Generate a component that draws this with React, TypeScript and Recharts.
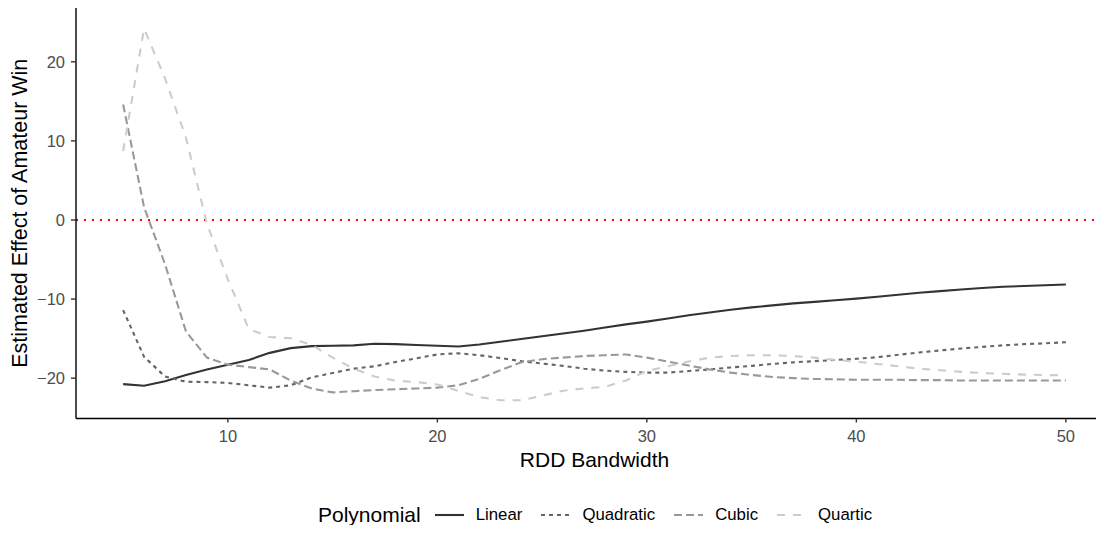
import React from 'react';
import { LineChart, Line, XAxis, YAxis, ReferenceLine } from 'recharts';

// RDD bandwidth (x) and estimated effect per polynomial order (y)
const bandwidth = [
  5, 6, 7, 8, 9, 10, 11, 12, 13, 14, 15, 16, 17, 18, 19, 20, 21, 22, 23, 24, 25, 26, 27,
  28, 29, 30, 31, 32, 33, 34, 35, 36, 37, 38, 39, 40, 41, 42, 43, 44, 45, 46, 47, 48, 49, 50,
];

const linear = [
  -20.75, -20.95, -20.4, -19.6, -18.9, -18.3, -17.7, -16.8, -16.2, -15.95, -15.9, -15.85,
  -15.65, -15.7, -15.8, -15.9, -16.0, -15.75, -15.4, -15.05, -14.7, -14.35, -14.0, -13.6,
  -13.2, -12.85, -12.45, -12.05, -11.7, -11.35, -11.05, -10.8, -10.55, -10.35, -10.15,
  -9.95, -9.7, -9.45, -9.2, -9.0, -8.8, -8.6, -8.45, -8.35, -8.25, -8.15,
];

const quadratic = [
  -11.4, -17.3, -19.8, -20.45, -20.5, -20.6, -20.9, -21.2, -20.9, -19.9, -19.35, -18.8,
  -18.5, -17.95, -17.5, -17.0, -16.85, -17.1, -17.45, -17.85, -18.15, -18.45, -18.8,
  -19.05, -19.2, -19.3, -19.3, -19.1, -18.9, -18.65, -18.45, -18.2, -18.0, -17.85, -17.7,
  -17.55, -17.35, -17.05, -16.75, -16.5, -16.25, -16.05, -15.85, -15.7, -15.6, -15.45,
];

const cubic = [
  14.6, 1.6, -5.6, -14.1, -17.4, -18.3, -18.6, -18.9, -20.3, -21.3, -21.8, -21.65, -21.5,
  -21.4, -21.3, -21.2, -20.9, -20.1, -19.0, -18.0, -17.6, -17.4, -17.2, -17.1, -17.0,
  -17.4, -17.9, -18.4, -18.9, -19.3, -19.6, -19.85, -20.0, -20.1, -20.15, -20.2, -20.2,
  -20.2, -20.25, -20.25, -20.3, -20.3, -20.3, -20.3, -20.3, -20.3,
];

const quartic = [
  8.7, 24.2, 17.9, 10.4, -0.5, -7.5, -13.8, -14.8, -14.95, -15.8, -17.4, -18.8, -19.8,
  -20.3, -20.5, -20.8, -21.6, -22.4, -22.8, -22.8, -22.2, -21.6, -21.3, -21.1, -20.3,
  -19.1, -18.5, -17.9, -17.4, -17.2, -17.1, -17.1, -17.2, -17.4, -17.7, -17.9, -18.2,
  -18.5, -18.8, -19.0, -19.2, -19.35, -19.45, -19.55, -19.6, -19.65,
];

const xTicks = [10, 20, 30, 40, 50];
const yTicks = [-20, -10, 0, 10, 20];

const seriesNames = ['Linear', 'Quadratic', 'Cubic', 'Quartic'];
const seriesValues = [linear, quadratic, cubic, quartic];
const seriesColors = ['#333333', '#666666', '#999999', '#CCCCCC'];
const seriesDashes = ['', '4 4', '8 4', '8 8'];

const data = bandwidth.map((b, i) => {
  const row: Record<string, number> = { bandwidth: b };
  seriesNames.forEach((name, s) => {
    row[name] = seriesValues[s][i];
  });
  return row;
});

const FONT = '"Liberation Sans", Arial, Helvetica, sans-serif';
const LINE_W = 2.1;

const fmtY = (v: number) => (v < 0 ? '\u2212' + Math.abs(v) : String(v));

const YTitle = (props: any) => {
  const vb = props.viewBox || {};
  const cx = 20;
  const cy = vb.y + vb.height / 2;
  return (
    <text
      x={cx}
      y={cy}
      transform={`rotate(-90 ${cx} ${cy})`}
      textAnchor="middle"
      dominantBaseline="central"
      fontFamily={FONT}
      fontSize={21.5}
      fill="#000000"
    >
      Estimated Effect of Amateur Win
    </text>
  );
};

const XTitle = (props: any) => {
  const vb = props.viewBox || {};
  return (
    <text
      x={vb.x + vb.width / 2}
      y={vb.y + 48.5}
      textAnchor="middle"
      fontFamily={FONT}
      fontSize={21}
      fill="#000000"
    >
      RDD Bandwidth
    </text>
  );
};

const LegendRow = () => (
  <div
    style={{
      position: 'absolute',
      left: 318,
      top: 504,
      height: 22,
      display: 'flex',
      alignItems: 'center',
      fontFamily: FONT,
      color: '#000',
      whiteSpace: 'nowrap',
      lineHeight: '22px',
    }}
  >
    <span style={{ fontSize: 21, marginRight: 14 }}>Polynomial</span>
    {seriesNames.map((name, i) => (
      <div
        key={name}
        style={{ display: 'flex', alignItems: 'center', marginRight: i < seriesNames.length - 1 ? 19 : 0 }}
      >
        <svg width={29} height={22} style={{ display: 'block' }}>
          <line
            x1={0}
            x2={29}
            y1={11}
            y2={11}
            stroke={seriesColors[i]}
            strokeWidth={LINE_W}
            strokeDasharray={seriesDashes[i] || undefined}
          />
        </svg>
        <span style={{ fontSize: 16.8, marginLeft: 12 }}>{name}</span>
      </div>
    ))}
  </div>
);

export default function App() {
  return (
    <div
      style={{
        position: 'relative',
        margin: -8,
        width: 1104,
        height: 533,
        overflow: 'hidden',
        background: '#ffffff',
      }}
    >
      <LineChart
        width={1113}
        height={533}
        data={data}
        margin={{ top: 8, right: 0, bottom: 54.5, left: 0 }}
      >
        <XAxis
          type="number"
          dataKey="bandwidth"
          domain={[2.75, 52.25]}
          ticks={xTicks}
          allowDataOverflow
          height={60}
          tickSize={4}
          tickMargin={8}
          axisLine={{ stroke: '#000000', strokeWidth: 1.4 }}
          tickLine={{ stroke: '#333333', strokeWidth: 1.4 }}
          tick={{ fill: '#4D4D4D', fontSize: 16.5, fontFamily: FONT }}
          label={<XTitle />}
        />
        <YAxis
          type="number"
          domain={[-25.1, 26.8]}
          ticks={yTicks}
          allowDataOverflow
          width={76}
          tickSize={5}
          tickMargin={6}
          tickFormatter={fmtY}
          axisLine={{ stroke: '#000000', strokeWidth: 1.4 }}
          tickLine={{ stroke: '#333333', strokeWidth: 1.4 }}
          tick={{ fill: '#4D4D4D', fontSize: 16.5, fontFamily: FONT }}
          label={<YTitle />}
        />
        <ReferenceLine y={0} stroke="#FF0000" strokeWidth={2} strokeDasharray="2 6" />
        {seriesNames.map((name, i) => (
          <Line
            key={name}
            type="linear"
            dataKey={name}
            stroke={seriesColors[i]}
            strokeWidth={LINE_W}
            strokeDasharray={seriesDashes[i] || undefined}
            strokeLinecap="butt"
            dot={false}
            activeDot={false}
            isAnimationActive={false}
          />
        ))}
      </LineChart>
      <LegendRow />
    </div>
  );
}
